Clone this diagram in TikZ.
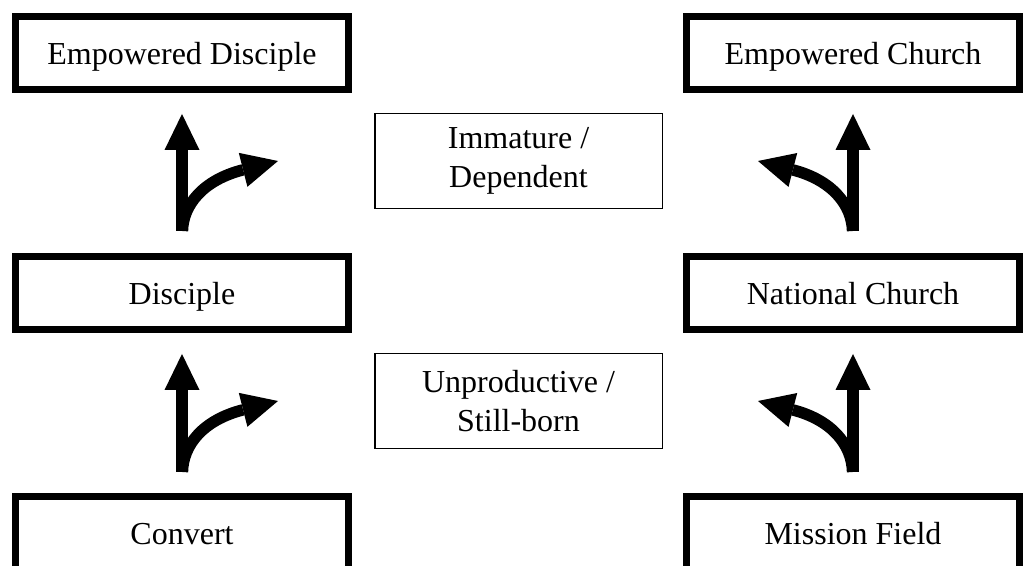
\documentclass[tikz,border=0pt]{standalone}
\usepackage{fontspec}
\setmainfont{Liberation Serif}
\usepackage{tikz}
\usetikzlibrary{arrows.meta}

\begin{document}
\begin{tikzpicture}[x = 0.75pt, y = -0.75pt,
    stage/.style = {draw, line width=5.25pt, minimum width=249.75pt, minimum height=54.75pt,
        inner sep=0pt, text height=21pt, text depth=4pt, font=\fontsize{24}{29}\selectfont},
    outcome/.style = {draw, line width=1.1pt, minimum width=215.6pt, minimum height=70.9pt,
        inner sep=0pt, align=center, font=\fontsize{24}{29}\selectfont},
    fork/.style = {line width=8.6pt, -{Triangle[length=27pt, width=26.25pt, line width=0pt]}}]
    \useasboundingbox (0,0) rectangle (1026,566);
    \clip (0,0) rectangle (1026,566);

    \node[stage] (empdisc) at (182,53) {Empowered Disciple};
    \node[stage] (disciple) at (182,293) {Disciple};
    \node[stage] (convert) at (182,533) {Convert};
    \node[stage] (empchurch) at (853,53) {Empowered Church};
    \node[stage] (natchurch) at (853,293) {National Church};
    \node[stage] (field) at (853,533) {Mission Field};

    \node[outcome] (immature) at (518.5,161) {Immature /\\Dependent};
    \node[outcome] (stillborn) at (518.5,401) {Unproductive /\\Still-born};

    \coordinate (turnA) at (278,401);
    \coordinate (turnB) at (278,161);
    \coordinate (turnC) at (758,401);
    \coordinate (turnD) at (758,161);

    \draw [fork, shorten <=15.75pt, shorten >=15.75pt] (convert.north) -- (disciple.south);
    \draw [fork, shorten <=16.5pt, shorten >=15.75pt] (disciple.north) -- (empdisc.south);
    \draw [fork, shorten <=15.75pt, shorten >=15.75pt] (field.north) -- (natchurch.south);
    \draw [fork, shorten <=16.5pt, shorten >=15.75pt] (natchurch.north) -- (empchurch.south);

    \draw [fork, shorten <=15.75pt] (convert.north) .. controls (183,445) and (203,420) .. (turnA);
    \draw [fork, shorten <=16.5pt] (disciple.north) .. controls (183,205) and (203,180) .. (turnB);
    \draw [fork, shorten <=15.75pt] (field.north) .. controls (852,445) and (832,420) .. (turnC);
    \draw [fork, shorten <=16.5pt] (natchurch.north) .. controls (852,205) and (832,180) .. (turnD);
\end{tikzpicture}
\end{document}
